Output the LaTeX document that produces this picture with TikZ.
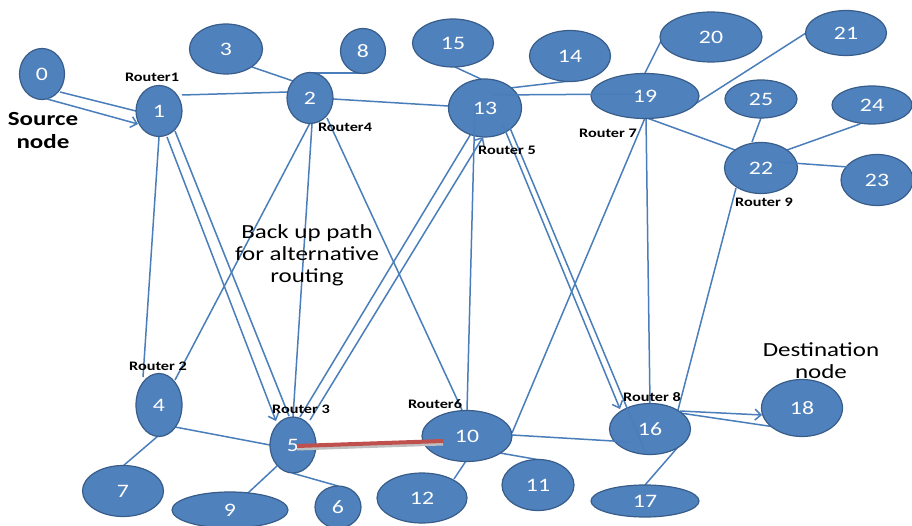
\documentclass[tikz,border=0pt]{standalone}
\usepackage{fontspec}
\setmainfont{Carlito}[FakeStretch=1.25]
\usetikzlibrary{shapes.geometric,arrows.meta,calc}
\definecolor{nodefill}{HTML}{4F81BD}
\definecolor{nodeline}{HTML}{385D8A}
\definecolor{linkblue}{HTML}{4A7EBB}
\definecolor{pathred}{HTML}{C0504D}
\pgfdeclarelayer{canvas}
\pgfdeclarelayer{back}
\pgfsetlayers{canvas,back,main}
\tikzset{
  nd/.style={ellipse, fill=nodefill, draw=nodeline, line width=1.2pt, inner sep=0pt,
    text=white, font=\fontsize{19}{22}\selectfont},
  lk/.style={draw=linkblue, line width=1.5pt},
  arr/.style={-{Straight Barb[length=6pt,width=11pt]}},
  rtr/.style={anchor=base, inner sep=0pt, font=\bfseries\fontsize{13}{15}\selectfont},
  lbl/.style={align=center, inner sep=0pt, font=\fontsize{20}{22}\selectfont}
}
\begin{document}
\begin{tikzpicture}[x=1pt,y=-1pt]
\useasboundingbox (0,0) rectangle (912,526);
\begin{pgfonlayer}{canvas}
\fill[white] (0,0) rectangle (912,526);
\end{pgfonlayer}

% routers and hosts
\node[nd,minimum width=45,minimum height=51] (n0) at (42,74) {0};
\node[nd,minimum width=46,minimum height=51] (n1) at (159,111) {1};
\node[nd,minimum width=46,minimum height=51] (n2) at (310,98) {2};
\node[nd,minimum width=73,minimum height=50] (n3) at (226,49) {3};
\node[nd,minimum width=45,minimum height=45] (n8) at (363,51) {8};
\node[nd,minimum width=81,minimum height=48] (n15) at (453,43) {15};
\node[nd,minimum width=81,minimum height=51] (n14) at (570,56) {14};
\node[nd,minimum width=73,minimum height=58] (n13) at (485,108) {13};
\node[nd,minimum width=108,minimum height=45] (n19) at (645,96) {19};
\node[nd,minimum width=102,minimum height=50] (n20) at (711,37) {20};
\node[nd,minimum width=81,minimum height=45] (n21) at (846,33) {21};
\node[nd,minimum width=72,minimum height=38] (n25) at (761,99) {25};
\node[nd,minimum width=80,minimum height=38] (n24) at (872,105) {24};
\node[nd,minimum width=73,minimum height=51] (n22) at (761,168) {22};
\node[nd,minimum width=72,minimum height=51] (n23) at (877,180) {23};
\node[nd,minimum width=46,minimum height=63] (n4) at (159,405) {4};
\node[nd,minimum width=46,minimum height=56] (n5) at (293,445) {5};
\node[nd,minimum width=81,minimum height=51] (n7) at (123,491) {7};
\node[nd,minimum width=116,minimum height=36] (n9) at (230,510) {9};
\node[nd,minimum width=46,minimum height=42] (n6) at (338,507) {6};
\node[nd,minimum width=90,minimum height=51] (n10) at (467,436) {10};
\node[nd,minimum width=90,minimum height=50] (n12) at (422,498) {12};
\node[nd,minimum width=72,minimum height=51] (n11) at (538,485) {11};
\node[nd,minimum width=81,minimum height=51] (n16) at (650,429) {16};
\node[nd,minimum width=108,minimum height=32] (n17) at (645,501) {17};
\node[nd,minimum width=81,minimum height=57] (n18) at (802,408) {18};

% links behind the nodes
\begin{pgfonlayer}{back}
\draw[lk] ($(n0)+(18,18)$) -- ($(n1)+(-23,0)$);
\draw[lk] ($(n1)+(23,-16)$) -- ($(n2)+(-22,-6)$);
\draw[lk] ($(n1)+(0,26)$) -- ($(n4)+(-16,-28)$);
\draw[lk] ($(n1)+(16,20)$) -- ($(n5)+(-4,-29)$);
\draw[lk] ($(n3)+(26,18)$) -- ($(n2)+(-17,-17)$);
\draw[lk] ($(n2)+(0,-25)$) -- ($(n8)+(2,22)$);
\draw[lk] ($(n2)+(23,1)$) -- ($(n13)+(-37,-2)$);
\draw[lk] ($(n2)+(0,25)$) -- ($(n4)+(16,-25)$);
\draw[lk] ($(n2)+(2,26)$) -- ($(n5)+(0,-28)$);
\draw[lk] ($(n2)+(17,20)$) -- ($(n10)+(-5,-26)$);
\draw[lk] ($(n15)+(2,24)$) -- ($(n13)+(-2,-28)$);
\draw[lk] ($(n13)+(25,-20)$) -- ($(n14)+(0,25)$);
\draw[lk] ($(n5)+(7,-28)$) -- ($(n13)+(-13,24)$);
\draw[lk] ($(n19)+(0,-23)$) -- ($(n20)+(-48,0)$);
\draw[lk] ($(n19)+(50,8)$) -- ($(n21)+(-40,0)$);
\draw[lk] ($(n19)+(2,22)$) -- ($(n22)+(-26,-18)$);
\draw[lk] ($(n19)+(0,22)$) -- ($(n10)+(45,-3)$);
\draw[lk] ($(n19)+(1,22)$) -- ($(n16)+(0,-25)$);
\draw[lk] ($(n22)+(-9,-26)$) -- ($(n25)+(0,19)$);
\draw[lk] ($(n22)+(26,-18)$) -- ($(n24)+(-12,19)$);
\draw[lk] ($(n22)+(-25,20)$) -- ($(n16)+(28,-19)$);
\draw[lk] ($(n16)+(30,-16)$) -- ($(n18)+(-27,19)$);
\draw[lk] ($(n16)+(28,18)$) -- ($(n17)+(0,-16)$);
\draw[lk] ($(n10)+(33,17)$) -- ($(n11)+(2,-25)$);
\draw[lk] ($(n10)+(-1,25)$) -- ($(n12)+(32,-19)$);
\draw[lk] ($(n4)+(16,22)$) -- ($(n5)+(-23,0)$);
\draw[lk] ($(n4)+(-1,31)$) -- ($(n7)+(0,-25)$);
\draw[lk] ($(n5)+(-16,21)$) -- ($(n9)+(18,-17)$);
\draw[lk] ($(n5)+(-1,28)$) -- ($(n6)+(0,-21)$);
\end{pgfonlayer}

% links drawn over the nodes
\draw[lk,arr] ($(n0)+(5,25)$) -- ($(n1)+(-21,13)$);
\draw[lk,arr] ($(n1)+(8,26)$) -- ($(n5)+(-17,-24)$);
\draw[lk,arr] ($(n5)+(17,-25)$) -- ($(n13)+(-2,29)$);
\draw[lk] ($(n13)+(8,-13)$) -- ($(n19)+(-5,-2)$);
\draw[lk] ($(n13)+(-10,-2)$) -- ($(n10)+(0,-26)$);
\draw[lk,arr] ($(n13)+(18,17)$) -- ($(n16)+(-30,-20)$);
\draw[lk] ($(n13)+(25,20)$) -- ($(n16)+(-5,22)$);
\draw[lk] ($(n10)+(45,-1)$) -- ($(n16)+(-20,13)$);
\draw[lk] ($(n22)+(17,-6)$) -- ($(n23)+(-29,-13)$);
\draw[lk,arr] ($(n16)+(30,-18)$) -- ($(n18)+(-40,7)$);

% failed link between router 3 and router 6
\draw[black!25, line width=3pt] ($(n5)+(4,4)$) -- ($(n10)+(-24,8)$);
\draw[pathred, line width=4pt] ($(n5)+(4,1)$) -- ($(n10)+(-24,5)$);

% router names
\node[rtr] (r1) at (152,82) {Router1};
\node[rtr] (r4) at (345,132) {Router4};
\node[rtr] (r5) at (507,155) {Router 5};
\node[rtr] (r7) at (608,138) {Router 7};
\node[rtr] (r9) at (764,207) {Router 9};
\node[rtr] (r2) at (158,370) {Router 2};
\node[rtr] (r3) at (301,413) {Router 3};
\node[rtr] (r6) at (435,408) {Router6};
\node[rtr] (r8) at (652,401) {Router 8};

% annotations
\node[lbl, font=\bfseries\fontsize{20}{23}\selectfont] (src) at (43,131) {Source\\node};
\node[lbl] (backup) at (307,255) {Back up path\\for alternative\\routing};
\node[lbl] (dst) at (821,361) {Destination\\node};
\end{tikzpicture}
\end{document}
